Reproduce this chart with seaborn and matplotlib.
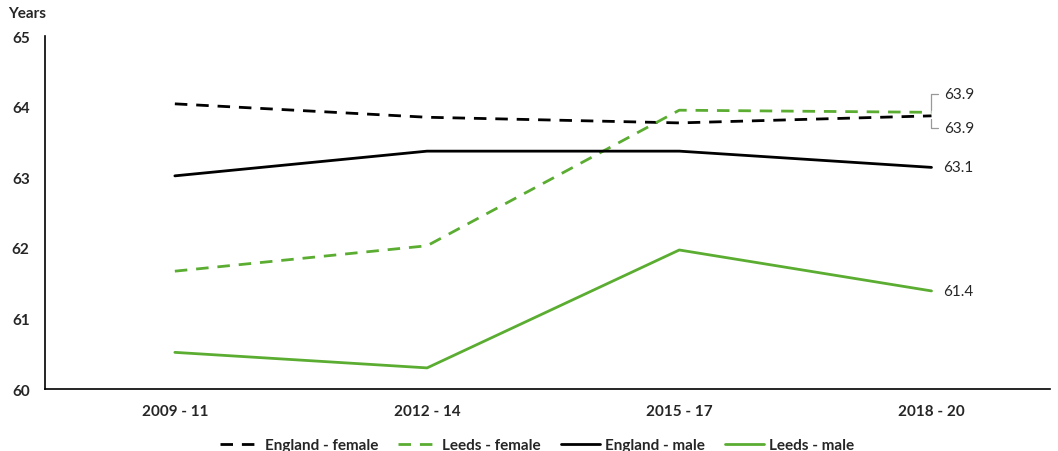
import pandas as pd
import matplotlib.pyplot as plt
import seaborn as sns

periods = ['2009 - 11', '2012 - 14', '2015 - 17', '2018 - 20']
england_female = [64.04, 63.85, 63.77, 63.87]
leeds_female = [61.67, 62.03, 63.95, 63.92]
england_male = [63.02, 63.37, 63.37, 63.14]
leeds_male = [60.52, 60.30, 61.97, 61.39]

series_names = ['England - female', 'Leeds - female', 'England - male', 'Leeds - male']
series_values = [england_female, leeds_female, england_male, leeds_male]

green = '#5BAD32'
palette = {'England - female': 'black', 'Leeds - female': green,
           'England - male': 'black', 'Leeds - male': green}
dashes = {'England - female': (4.5, 3.2), 'Leeds - female': (4.5, 3.2),
          'England - male': '', 'Leeds - male': ''}

rows = []
for name, vals in zip(series_names, series_values):
    for i, v in enumerate(vals):
        rows.append({'period': i, 'series': name, 'value': v})
df = pd.DataFrame(rows)

sns.set_style('white')
plt.rcParams['font.family'] = ['Lato', 'DejaVu Sans']

fig = plt.figure(figsize=(10.58, 4.52), dpi=100)
ax = fig.add_axes([0.0425, 0.137, 0.9495, 0.781])

sns.lineplot(data=df, x='period', y='value', hue='series', style='series',
             palette=palette, dashes=dashes, hue_order=series_names,
             style_order=series_names, linewidth=2, ax=ax)

ax.set_xlim(-0.515, 3.468)
ax.set_ylim(60, 65)
ax.set_xticks(range(4))
ax.set_xticklabels(periods, fontsize=11, fontweight='bold')
ax.set_yticks([60, 61, 62, 63, 64, 65])
ax.set_yticklabels(['60', '61', '62', '63', '64', '65'], fontsize=11, fontweight='bold')
ax.tick_params(axis='x', length=0, pad=11)
ax.tick_params(axis='y', length=0, pad=11)
ax.set_xlabel('')
ax.set_ylabel('')
for s in ['top', 'right']:
    ax.spines[s].set_visible(False)
for s in ['left', 'bottom']:
    ax.spines[s].set_color('black')
    ax.spines[s].set_linewidth(1.2)

fig.text(0.008, 0.953, 'Years', fontsize=11, fontweight='bold', ha='left', va='bottom')

# end labels
lab_kw = dict(fontsize=11, va='center', ha='left')
leader = dict(arrowstyle='-', color='#999999', lw=0.9,
              connectionstyle='angle,angleA=0,angleB=90,rad=0')
ax.annotate(f'{leeds_female[3]:.1f}', xy=(3, leeds_female[3]), xytext=(3.05, 64.18),
            arrowprops=leader, **lab_kw)
ax.annotate(f'{england_female[3]:.1f}', xy=(3, england_female[3]), xytext=(3.05, 63.7),
            arrowprops=leader, **lab_kw)
ax.text(3.045, england_male[3], f'{england_male[3]:.1f}', **lab_kw)
ax.text(3.045, leeds_male[3], f'{leeds_male[3]:.1f}', **lab_kw)

leg = ax.legend(loc='upper center', bbox_to_anchor=(0.49, -0.1), ncol=4, frameon=False,
                prop={'size': 11, 'weight': 'bold'}, handlelength=2.6, columnspacing=1.3,
                handletextpad=0.3)

fig.savefig('out.png', dpi=100)
